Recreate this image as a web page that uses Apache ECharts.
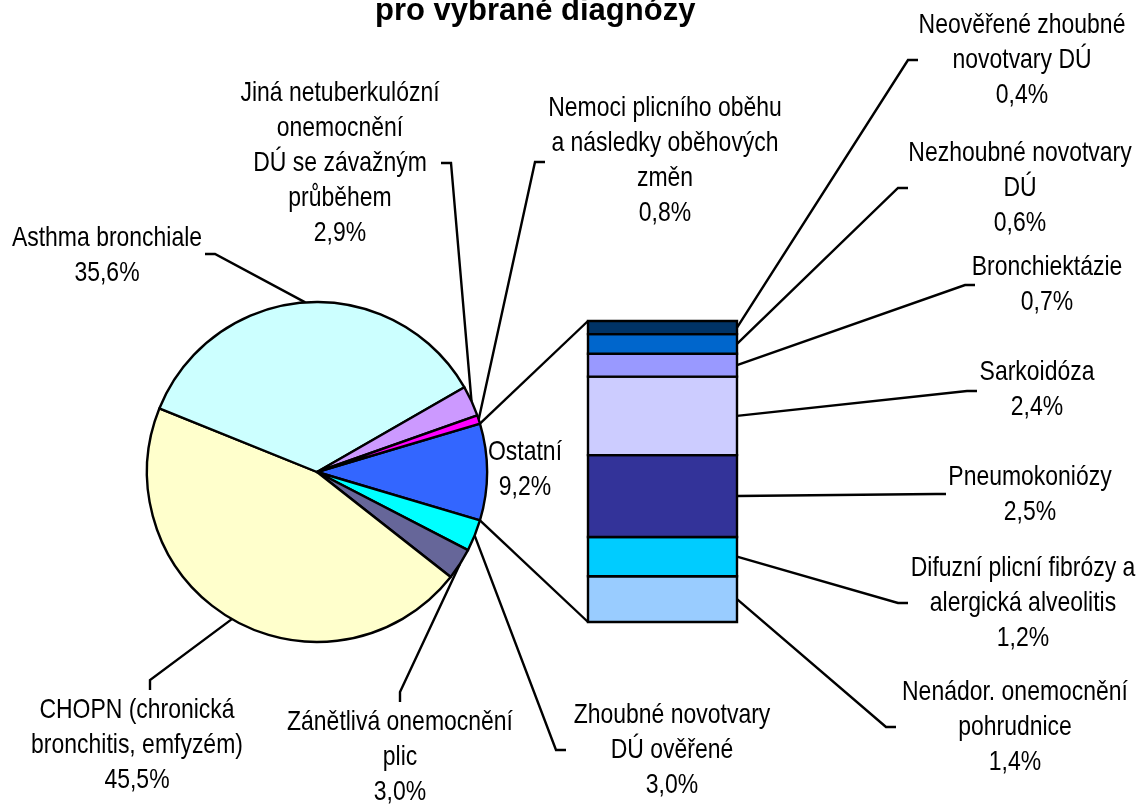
<!DOCTYPE html>
<html>
<head>
<meta charset="utf-8">
<script src="https://cdn.jsdelivr.net/npm/echarts@6/dist/echarts.min.js"></script>
<style>
  html, body { margin: 0; padding: 0; background: #fff; }
  #main { width: 1143px; height: 807px; }
</style>
</head>
<body>
<div id="main"></div>
<script>
// main pie, clockwise from the "Ostatní" slice
var pieNames = [
    'Ostatní',
    'Zhoubné novotvary\nDÚ ověřené',
    'Zánětlivá onemocnění\nplic',
    'CHOPN (chronická\nbronchitis, emfyzém)',
    'Asthma bronchiale',
    'Jiná netuberkulózní\nonemocnění\nDÚ se závažným\nprůběhem',
    'Nemoci plicního oběhu\na následky oběhových\nzměn'
]
var pieValues = [9.2, 3.0, 3.0, 45.5, 35.6, 2.9, 0.8]
var pieColors = ['#3366ff', '#00ffff', '#666699', '#ffffcc', '#ccffff', '#cc99ff', '#ff00ff']

// the "Ostatní" breakdown, bottom to top
var barNames = [
    'Nenádor. onemocnění\npohrudnice',
    'Difuzní plicní fibrózy a\nalergická alveolitis',
    'Pneumokoniózy',
    'Sarkoidóza',
    'Bronchiektázie',
    'Nezhoubné novotvary\nDÚ',
    'Neověřené zhoubné\nnovotvary DÚ'
]
var barValues = [1.4, 1.2, 2.5, 2.4, 0.7, 0.6, 0.4]
var barColors = ['#99ccff', '#00ccff', '#333399', '#ccccff', '#9999ff', '#0066cc', '#003366']

// layout: label centres and the point where the leader line meets the label
var pieCenter = [317, 472]
var pieRadius = 170
var pieLabelPos = [
    { x: 525, y: 470, side: 'none' },
    { x: 672, y: 750, side: 'left', ax: 566, ay: 750 },
    { x: 400, y: 757, side: 'top', ax: 400, ay: 702 },
    { x: 137, y: 745, side: 'top', ax: 150, ay: 690 },
    { x: 107, y: 256, side: 'right', ax: 205, ay: 254 },
    { x: 340, y: 163, side: 'right', ax: 441, ay: 163 },
    { x: 665, y: 161, side: 'left', ax: 545, ay: 162 }
]
var barLabelPos = [
    { x: 1015, y: 727, ax: 896, ay: 727 },
    { x: 1023, y: 603, ax: 908, ay: 603 },
    { x: 1030, y: 495, ax: 946, ay: 494 },
    { x: 1037, y: 390, ax: 977, ay: 391 },
    { x: 1047, y: 285, ax: 975, ay: 285 },
    { x: 1020, y: 188, ax: 908, ay: 188 },
    { x: 1022, y: 60, ax: 918, ay: 60 }
]

// Arial Narrow look: Liberation Sans squeezed horizontally
var FONT = '"Liberation Sans", Arial, sans-serif'
var NARROW = 0.82
var LW = 2.4
var HOOK = 10

function pct(v) {
    return v.toFixed(1).replace('.', ',') + '%'
}

function hookPoints(pos) {
    if (pos.side === 'left') return [[pos.ax - HOOK, pos.ay], [pos.ax, pos.ay]]
    if (pos.side === 'right') return [[pos.ax + HOOK, pos.ay], [pos.ax, pos.ay]]
    return [[pos.ax, pos.ay - HOOK], [pos.ax, pos.ay]]
}

function labelText(str, x, y) {
    return {
        type: 'text',
        x: x,
        y: y,
        scaleX: NARROW,
        style: {
            text: str,
            x: 0,
            y: 0,
            align: 'center',
            verticalAlign: 'middle',
            fontFamily: FONT,
            fontSize: 28,
            lineHeight: 35,
            fill: '#000'
        }
    }
}

var pieTotal = pieValues.reduce(function (a, b) { return a + b }, 0)
var barTotal = barValues.reduce(function (a, b) { return a + b }, 0)
var halfOstatni = pieValues[0] / pieTotal * 360 / 2

var barData = []
var acc = 0
barValues.forEach(function (v, i) {
    barData.push([0, acc, v, i])
    acc += v
})

var pieLabelData = []
acc = 0
pieValues.forEach(function (v, i) {
    pieLabelData.push([acc, v, i])
    acc += v
})

var myChart = echarts.init(document.getElementById('main'))

var option = {
    backgroundColor: '#fff',
    animation: false,
    title: {
        text: 'pro vybrané diagnózy',
        left: 375,
        top: -4,
        padding: 0,
        textStyle: {
            fontFamily: FONT,
            fontWeight: 'bold',
            fontSize: 31,
            color: '#000'
        }
    },
    grid: {
        left: 588,
        top: 321,
        width: 149,
        height: 301
    },
    xAxis: {
        type: 'category',
        data: ['Ostatní'],
        show: false
    },
    yAxis: {
        type: 'value',
        min: 0,
        max: barTotal,
        show: false
    },
    series: [
        {
            type: 'pie',
            center: pieCenter,
            radius: pieRadius,
            startAngle: halfOstatni,
            clockwise: true,
            silent: true,
            label: { show: false },
            labelLine: { show: false },
            data: pieNames.map(function (n, i) {
                return { name: n, value: pieValues[i], itemStyle: { color: pieColors[i] } }
            }),
            itemStyle: {
                borderColor: '#000',
                borderWidth: LW
            }
        },
        {
            // pie labels with Excel-style leader lines
            type: 'custom',
            coordinateSystem: 'none',
            silent: true,
            data: pieLabelData,
            renderItem: function (params, api) {
                var base = api.value(0)
                var v = api.value(1)
                var i = api.value(2)
                var pos = pieLabelPos[i]
                var children = [labelText(pieNames[i] + '\n' + pct(v), pos.x, pos.y)]
                if (pos.side !== 'none') {
                    var mid = (halfOstatni - (base + v / 2) / pieTotal * 360) * Math.PI / 180
                    var ex = pieCenter[0] + pieRadius * Math.cos(mid)
                    var ey = pieCenter[1] - pieRadius * Math.sin(mid)
                    var h = hookPoints(pos)
                    children.push({
                        type: 'polyline',
                        shape: { points: [[ex, ey], h[0], h[1]] },
                        style: { fill: null, stroke: '#000', lineWidth: LW }
                    })
                }
                return { type: 'group', children: children }
            }
        },
        {
            // bar of pie
            type: 'custom',
            silent: true,
            data: barData,
            renderItem: function (params, api) {
                var i = api.value(3)
                var base = api.value(1)
                var v = api.value(2)
                var pBot = api.coord([0, base])
                var pTop = api.coord([0, base + v])
                var bw = api.size([1, 0])[0]
                var x0 = pBot[0] - bw / 2
                var midY = (pBot[1] + pTop[1]) / 2
                var pos = barLabelPos[i]
                var h = hookPoints({ side: 'left', ax: pos.ax, ay: pos.ay })
                var children = [
                    {
                        type: 'rect',
                        shape: { x: x0, y: pTop[1], width: bw, height: pBot[1] - pTop[1] },
                        style: { fill: barColors[i], stroke: '#000', lineWidth: LW }
                    },
                    {
                        type: 'polyline',
                        shape: { points: [[x0 + bw, midY], h[0], h[1]] },
                        style: { fill: null, stroke: '#000', lineWidth: LW }
                    },
                    labelText(barNames[i] + '\n' + pct(v), pos.x, pos.y)
                ]
                // connector lines from the "Ostatní" slice to the bar
                if (i === 0) {
                    var a = halfOstatni * Math.PI / 180
                    var ex = pieCenter[0] + pieRadius * Math.cos(a)
                    var eyTop = pieCenter[1] - pieRadius * Math.sin(a)
                    var eyBot = pieCenter[1] + pieRadius * Math.sin(a)
                    var top = api.coord([0, barTotal])[1]
                    children.push({
                        type: 'line',
                        shape: { x1: ex, y1: eyTop, x2: x0, y2: top },
                        style: { stroke: '#000', lineWidth: LW }
                    })
                    children.push({
                        type: 'line',
                        shape: { x1: ex, y1: eyBot, x2: x0, y2: pBot[1] },
                        style: { stroke: '#000', lineWidth: LW }
                    })
                }
                return { type: 'group', children: children }
            }
        }
    ]
}

myChart.setOption(option)
</script>
</body>
</html>
